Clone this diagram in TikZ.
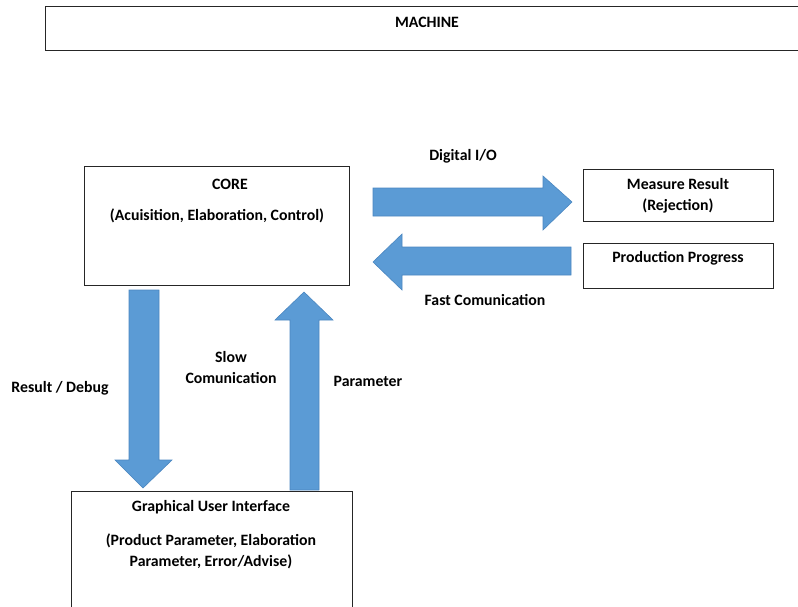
\documentclass[tikz,border=0pt]{standalone}
\usepackage{fontspec}
\setmainfont{Carlito}
\definecolor{arrowblue}{HTML}{5B9BD5}
\definecolor{arrowedge}{HTML}{4A86C0}
\begin{document}
\begin{tikzpicture}[x=1pt,y=-1pt,
  box/.style={draw=black!85, line width=1.2pt, anchor=north west},
  txt/.style={font=\bfseries\fontsize{15.8}{21}\selectfont, align=center, inner sep=0pt},
  blockarrow/.style={fill=arrowblue, draw=arrowedge, line width=0.6pt}]

\useasboundingbox (0,0) rectangle (798,606);
\clip (0,0) rectangle (798,606);

% boxes
\node[box, minimum width=780pt, minimum height=44pt] (machine) at (45,6) {};
\node[box, minimum width=265pt, minimum height=119pt] (core) at (84,166) {};
\node[box, minimum width=190pt, minimum height=52pt] (measure) at (583,169) {};
\node[box, minimum width=190pt, minimum height=45pt] (progress) at (583,243) {};
\node[box, minimum width=281pt, minimum height=140pt] (gui) at (71,491) {};

% texts
\node[txt] (machinetxt) at (427,22) {MACHINE};
\node[txt] (coretitle) at (230,184) {CORE};
\node[txt] (coretxt) at (217,216) {(Acuisition, Elaboration, Control)};
\node[txt] (measuretxt) at (678,196) {Measure Result\\(Rejection)};
\node[txt] (progresstxt) at (678,258) {Production Progress};
\node[txt] (guititle) at (211,507) {Graphical User Interface};
\node[txt] (guitxt) at (211,551) {(Product Parameter, Elaboration\\Parameter, Error/Advise)};

% block arrows
\filldraw[blockarrow] (373,188) -- (543,188) -- (543,176) -- (572,202)
  -- (543,230) -- (543,216) -- (373,216) -- cycle;
\filldraw[blockarrow] (571,247) -- (402,247) -- (402,234) -- (373,262)
  -- (402,290) -- (402,275) -- (571,275) -- cycle;
\filldraw[blockarrow] (129,290) -- (159,290) -- (159,460) -- (172,460)
  -- (143,488) -- (115,460) -- (129,460) -- cycle;
\filldraw[blockarrow] (290,490) -- (290,320) -- (275,320) -- (304,292)
  -- (333,320) -- (319,320) -- (319,490) -- cycle;

% arrow labels
\node[txt] (diglabel) at (463,156) {Digital I/O};
\node[txt] (fastlabel) at (485,300) {Fast Comunication};
\node[txt] (resultlabel) at (60,388) {Result / Debug};
\node[txt] (slowlabel) at (231,368) {Slow\\Comunication};
\node[txt] (paramlabel) at (368,381) {Parameter};

\end{tikzpicture}
\end{document}
